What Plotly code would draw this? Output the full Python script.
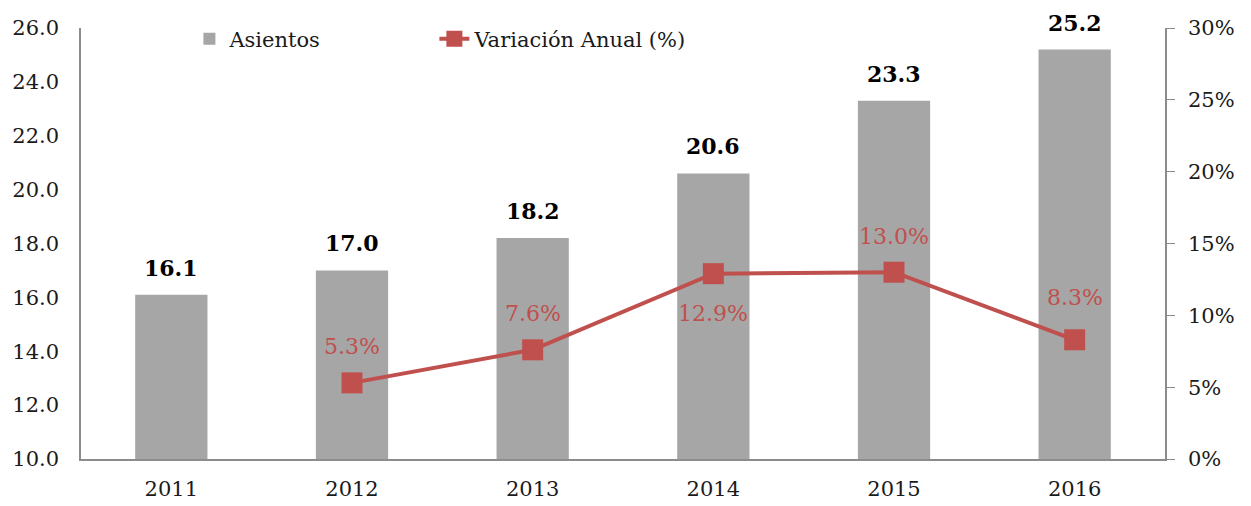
import plotly.graph_objects as go

years = ["2011", "2012", "2013", "2014", "2015", "2016"]
asientos = [16.1, 17.0, 18.2, 20.6, 23.3, 25.2]
var_years = ["2012", "2013", "2014", "2015", "2016"]
variacion = [5.3, 7.6, 12.9, 13.0, 8.3]
var_label_shift = [36, 36, -40, 36, 42]

FONT = "DejaVu Serif"
BAR = "#a6a6a6"
RED = "#c0504d"

fig = go.Figure()
fig.add_trace(go.Bar(
    x=years, y=asientos, name="Asientos", marker=dict(color=BAR, line=dict(width=0)),
    legend="legend",
))
fig.add_trace(go.Scatter(
    x=var_years, y=variacion, name="Variación Anual (%)", yaxis="y2",
    mode="lines+markers", line=dict(color=RED, width=4),
    marker=dict(symbol="square", size=21, color=RED), legend="legend2",
))

for yr, v in zip(years, asientos):
    fig.add_annotation(x=years.index(yr), y=v, text=f"<b>{v:.1f}</b>", showarrow=False,
                       yanchor="middle", yshift=27, xref="x", yref="y",
                       font=dict(family=FONT, size=22, color="#000000"))
for yr, v, s in zip(var_years, variacion, var_label_shift):
    fig.add_annotation(x=years.index(yr), y=v, text=f"{v:.1f}%", showarrow=False,
                       yanchor="middle", yshift=s, xref="x", yref="y2",
                       font=dict(family=FONT, size=22, color=RED))

leg_common = dict(orientation="h", yanchor="middle", xanchor="left",
                  font=dict(family=FONT, size=21, color="#1a1a1a"),
                  bgcolor="rgba(0,0,0,0)")

fig.update_layout(
    width=1251, height=506,
    margin=dict(l=73, r=94, t=20, b=55, autoexpand=False),
    paper_bgcolor="white", plot_bgcolor="white",
    font=dict(family=FONT, size=21, color="#1a1a1a"),
    bargap=0.6,
    showlegend=True,
    legend=dict(x=0.100, y=0.974, **leg_common),
    legend2=dict(x=0.326, y=0.974, **leg_common),
    xaxis=dict(type="category", categoryorder="array", categoryarray=years,
               showline=True, linecolor="#8c8c8c", linewidth=1.5, ticks="",
               showgrid=False, tickfont=dict(size=21), automargin=False,
               ticklabelstandoff=10),
    yaxis=dict(range=[10, 26], dtick=2, tickformat=".1f", showline=True,
               linecolor="#8c8c8c", linewidth=1.5, showgrid=False, ticks="",
               zeroline=False, tickfont=dict(size=21), automargin=False,
               ticklabelstandoff=16),
    yaxis2=dict(range=[0, 30], dtick=5, ticksuffix="%", overlaying="y", side="right",
                showline=True, linecolor="#8c8c8c", linewidth=1.5, showgrid=False,
                ticks="outside", ticklen=8, tickcolor="#8c8c8c", zeroline=False,
                tickfont=dict(size=21), automargin=False, ticklabelstandoff=9),
)

fig.write_html("out.html")
